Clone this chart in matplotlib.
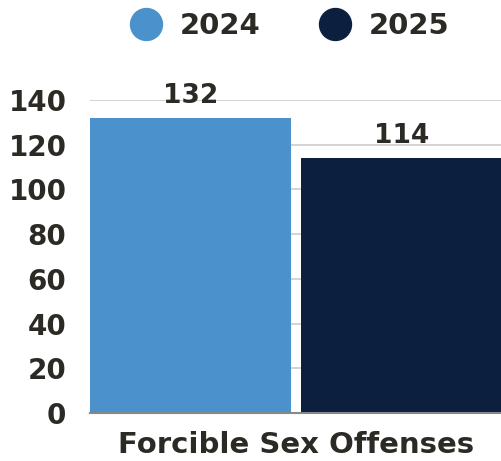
import matplotlib.pyplot as plt
from matplotlib.lines import Line2D

# data
category = "Forcible Sex Offenses"
years = ["2024", "2025"]
counts = [132, 114]
colors = ["#4B91CC", "#0D1F3F"]
yticks = [0, 20, 40, 60, 80, 100, 120, 140]

text_col = "#2B2A25"
plt.rcParams['font.family'] = ['DejaVu Sans']
plt.rcParams['font.weight'] = 'bold'

fig = plt.figure(figsize=(5.02, 4.61), dpi=100)
ax = fig.add_axes([90 / 502, 1 - 413 / 461, 412 / 502, 313 / 461])

width = 0.488
offsets = [-0.256, 0.256]
for off, val, col in zip(offsets, counts, colors):
    ax.bar(off, val, width=width, color=col, zorder=2)
    ax.text(off, val + 4, str(val), ha='center', va='bottom',
            fontsize=19, fontweight='bold', color=text_col, zorder=3)

ax.set_xlim(-0.5, 0.5)
ax.set_ylim(0, 140)
ax.set_yticks(yticks)
ax.set_xticks([0])
ax.set_xticklabels([category])
ax.tick_params(axis='y', length=0, pad=17, labelsize=20, labelcolor=text_col)
ax.tick_params(axis='x', length=0, pad=13, labelsize=21, labelcolor=text_col)
for lab in ax.get_xticklabels() + ax.get_yticklabels():
    lab.set_fontweight('bold')

ax.grid(axis='y', color='#cccccc', linewidth=1.2, zorder=0)
for s in ['top', 'right', 'left']:
    ax.spines[s].set_visible(False)
ax.spines['bottom'].set_color('#888888')
ax.spines['bottom'].set_linewidth(1.5)
ax.spines['bottom'].set_zorder(3)

handles = [Line2D([], [], marker='o', linestyle='none', markersize=23,
                  markerfacecolor=c, markeredgecolor=c) for c in colors]
leg = fig.legend(handles, years, loc='center', bbox_to_anchor=(283 / 502, 1 - 26 / 461),
                 ncol=2, frameon=False, fontsize=21, handletextpad=0.15,
                 columnspacing=1.55)
for t in leg.get_texts():
    t.set_color(text_col)
    t.set_fontweight('bold')

fig.savefig("out.png", dpi=100)
